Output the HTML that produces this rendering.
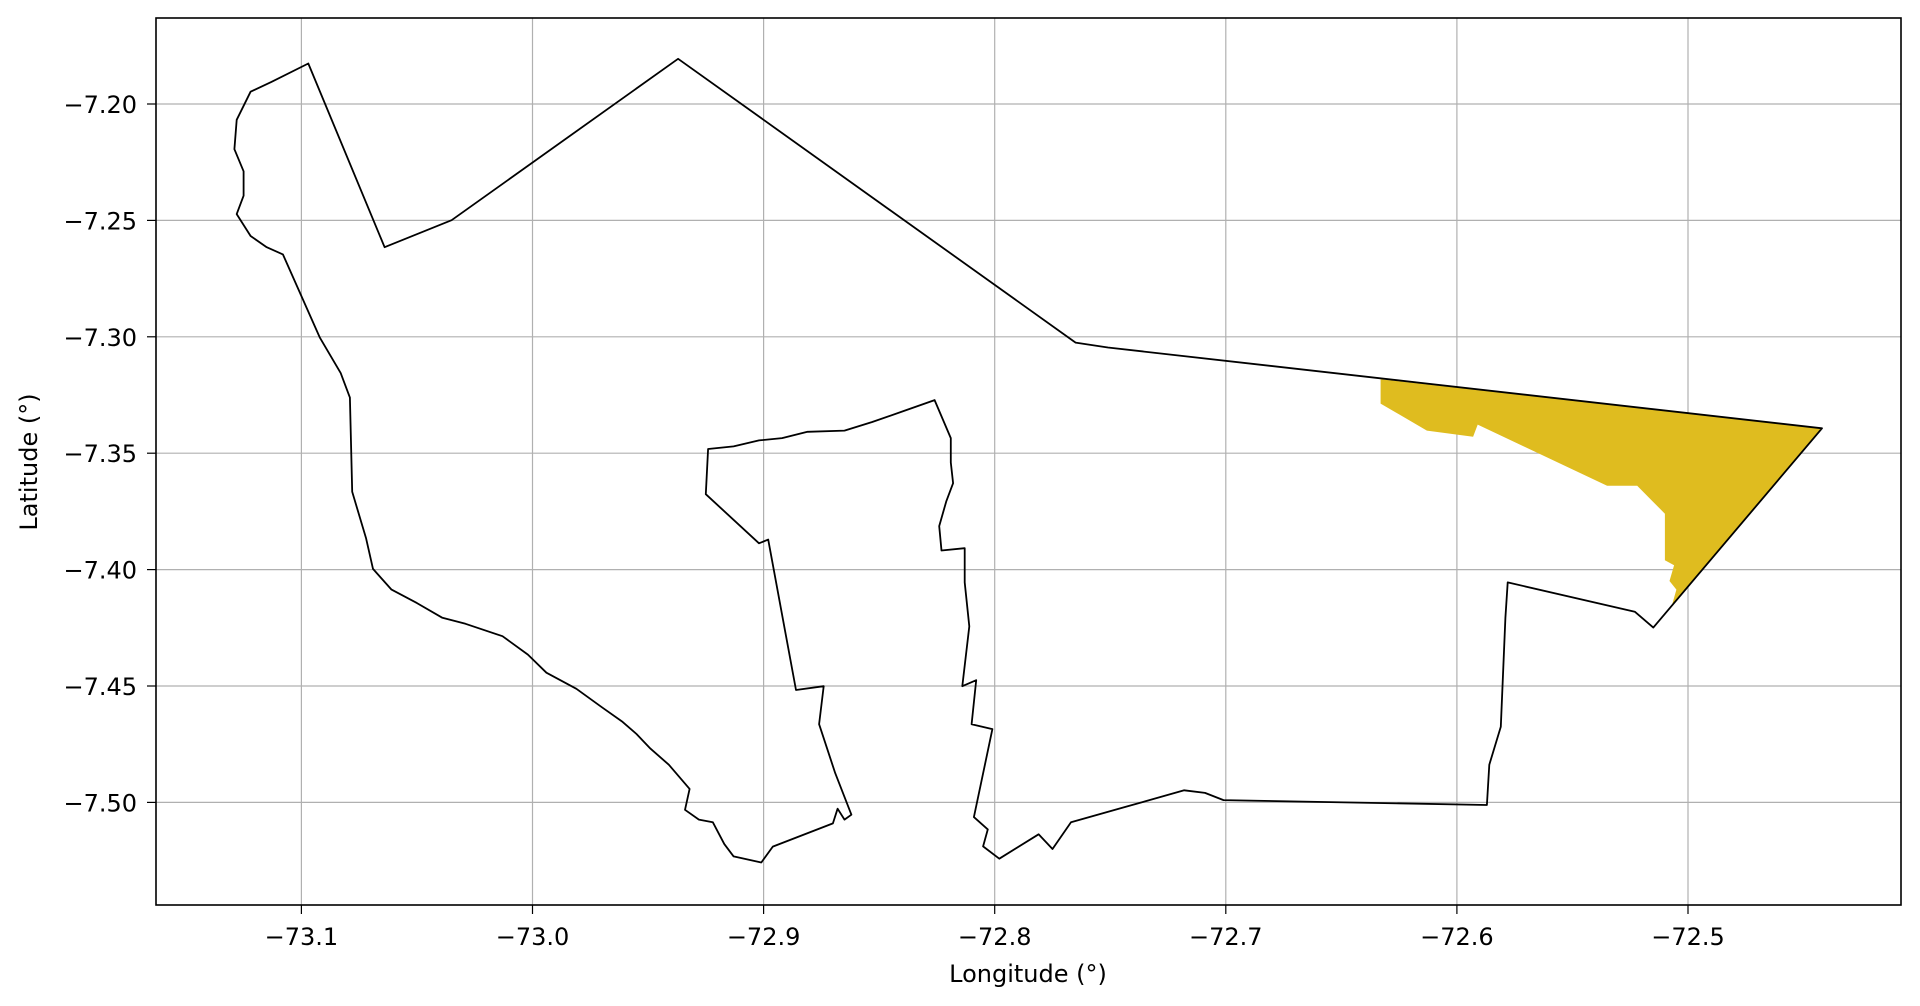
<!DOCTYPE html>
<html><head><meta charset="utf-8"><style>
html,body{margin:0;padding:0;background:#fff;}
svg{display:block;font-family:"DejaVu Sans","Liberation Sans",sans-serif;}
</style></head><body>
<svg id="chart" width="1920" height="1006" viewBox="0 0 1920 1006" xmlns="http://www.w3.org/2000/svg">
<rect x="0" y="0" width="1920" height="1006" fill="#fff"/>
<g id="grid"></g>
<g id="shapes"></g>
<rect x="156" y="18" width="1745" height="887" fill="none" stroke="#000" stroke-width="1.6"/>
<g id="ticks"></g>
<text x="1028" y="982" font-size="24" text-anchor="middle">Longitude (°)</text>
<text x="37" y="462" font-size="24" text-anchor="middle" transform="rotate(-90 37 462)">Latitude (°)</text>
</svg>
<script>
const xTicks = [-73.1, -73.0, -72.9, -72.8, -72.7, -72.6, -72.5];
const xTickLabels = ["\u221273.1","\u221273.0","\u221272.9","\u221272.8","\u221272.7","\u221272.6","\u221272.5"];
const yTicks = [-7.20, -7.25, -7.30, -7.35, -7.40, -7.45, -7.50];
const yTickLabels = ["\u22127.20","\u22127.25","\u22127.30","\u22127.35","\u22127.40","\u22127.45","\u22127.50"];
const outlineLon = [-73.097,-73.064,-73.035,-72.937,-72.765,-72.751,-72.442,-72.515,-72.523,-72.578,-72.579,-72.581,-72.586,-72.587,-72.701,-72.709,-72.718,-72.744,-72.767,-72.775,-72.781,-72.798,-72.805,-72.803,-72.809,-72.801,-72.810,-72.808,-72.814,-72.811,-72.813,-72.813,-72.823,-72.824,-72.821,-72.818,-72.819,-72.819,-72.826,-72.838,-72.853,-72.865,-72.881,-72.892,-72.902,-72.913,-72.924,-72.925,-72.902,-72.898,-72.886,-72.874,-72.876,-72.869,-72.862,-72.865,-72.868,-72.870,-72.896,-72.901,-72.913,-72.917,-72.922,-72.928,-72.934,-72.932,-72.941,-72.949,-72.955,-72.961,-72.970,-72.981,-72.994,-73.002,-73.013,-73.029,-73.039,-73.050,-73.061,-73.069,-73.072,-73.078,-73.079,-73.083,-73.092,-73.108,-73.115,-73.122,-73.128,-73.125,-73.125,-73.129,-73.128,-73.122,-73.113];
const outlineLat = [-7.1826,-7.2615,-7.2499,-7.1806,-7.3025,-7.3046,-7.3393,-7.4249,-7.4181,-7.4055,-7.4207,-7.4675,-7.4838,-7.5011,-7.4990,-7.4959,-7.4948,-7.5021,-7.5085,-7.5200,-7.5137,-7.5242,-7.5189,-7.5116,-7.5063,-7.4685,-7.4664,-7.4475,-7.4501,-7.4244,-7.4055,-7.3908,-7.3918,-7.3813,-7.3708,-7.3629,-7.3540,-7.3435,-7.3272,-7.3314,-7.3366,-7.3403,-7.3408,-7.3435,-7.3445,-7.3471,-7.3482,-7.3676,-7.3887,-7.3871,-7.4517,-7.4501,-7.4664,-7.4874,-7.5053,-7.5074,-7.5027,-7.5090,-7.5190,-7.5258,-7.5232,-7.5179,-7.5085,-7.5074,-7.5032,-7.4942,-7.4838,-7.4769,-7.4706,-7.4654,-7.4591,-7.4512,-7.4443,-7.4365,-7.4286,-7.4233,-7.4207,-7.4144,-7.4086,-7.3997,-7.3866,-7.3666,-7.3261,-7.3156,-7.3004,-7.2646,-7.2615,-7.2567,-7.2473,-7.2394,-7.2289,-7.2194,-7.2068,-7.1947,-7.1905];
const zoneLon = [-72.633,-72.442,-72.507,-72.505,-72.508,-72.506,-72.510,-72.510,-72.522,-72.535,-72.591,-72.593,-72.613,-72.633];
const zoneLat = [-7.3182,-7.3393,-7.4155,-7.4086,-7.4049,-7.3981,-7.3960,-7.3760,-7.3640,-7.3640,-7.3377,-7.3429,-7.3403,-7.3287];

const NS = "http://www.w3.org/2000/svg";
const PL = 156, PR = 1901, PT = 18, PB = 905;
function xs(lon){ return 1688 + (lon + 72.5) * 2311; }
function ys(lat){ return 104 + (-7.20 - lat) * 2328; }
function mk(tag, attrs, parent){ const e = document.createElementNS(NS, tag); for (const k in attrs) e.setAttribute(k, attrs[k]); parent.appendChild(e); return e; }
const grid = document.getElementById('grid'), ticks = document.getElementById('ticks'), shapes = document.getElementById('shapes');
xTicks.forEach((v,i)=>{
  const x = xs(v);
  const g = mk('line',{x1:x,x2:x,y1:PT,y2:PB,stroke:'#b0b0b0','stroke-width':1.2},grid);
  
  
  const t = mk('line',{x1:x,x2:x,y1:PB,y2:PB+9,stroke:'#000','stroke-width':1.2},ticks);
  
  
  const l = mk('text',{x:x,y:PB+40,'font-size':24,'text-anchor':'middle'},ticks);
  l.textContent = xTickLabels[i];
  
  
});
yTicks.forEach((v,i)=>{
  const y = ys(v);
  const g = mk('line',{x1:PL,x2:PR,y1:y,y2:y,stroke:'#b0b0b0','stroke-width':1.2},grid);
  
  
  const t = mk('line',{x1:PL-9,x2:PL,y1:y,y2:y,stroke:'#000','stroke-width':1.2},ticks);
  
  
  const l = mk('text',{x:PL-19,y:y+9,'font-size':24,'text-anchor':'end'},ticks);
  l.textContent = yTickLabels[i];
  
  
});
function pts(lons, lats){ return lons.map((v,i)=>xs(v).toFixed(1)+','+ys(lats[i]).toFixed(1)).join(' '); }
const zone = mk('polygon',{points:pts(zoneLon,zoneLat),fill:'#dfbc1f',stroke:'none'},shapes);


const outline = mk('polygon',{points:pts(outlineLon,outlineLat),fill:'none',stroke:'#000','stroke-width':1.8,'stroke-linejoin':'round'},shapes);


</script>
</body></html>
